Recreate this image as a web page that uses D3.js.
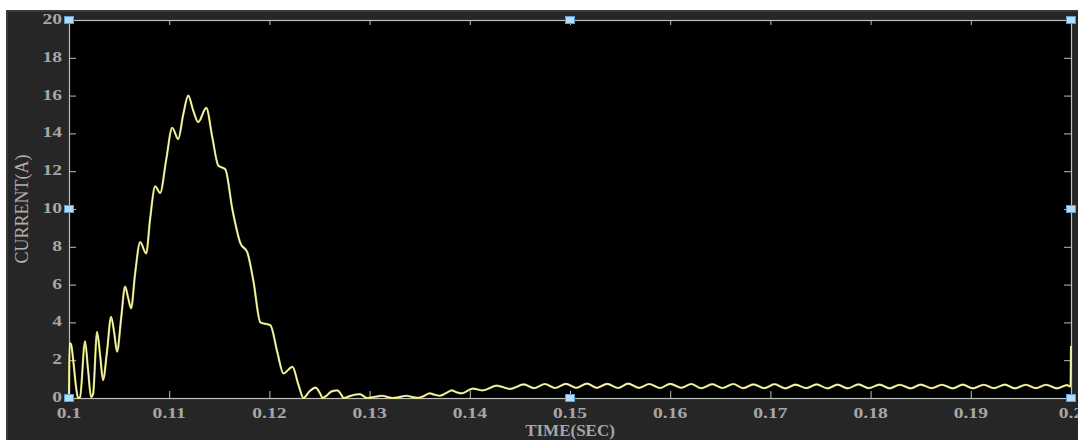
<!DOCTYPE html>
<html>
<head>
<meta charset="utf-8">
<script src="https://cdn.jsdelivr.net/npm/d3@7"></script>
<style>
  html, body { margin: 0; padding: 0; background: #ffffff; }
  svg { display: block; }
</style>
</head>
<body>
<svg id="chart" width="1078" height="440"></svg>
<script>
// ---- data ----
const timeSec = [
  0.1000, 0.10005, 0.1002, 0.1004, 0.1007, 0.1009, 0.1011, 0.1016, 0.1019, 0.1022,
  0.1024, 0.1028, 0.1031, 0.1034, 0.1038, 0.1042, 0.1045, 0.1048, 0.1052, 0.1056,
  0.1059, 0.1062, 0.1066, 0.1071, 0.1077, 0.1081, 0.1086, 0.1091, 0.1097, 0.1103,
  0.1109, 0.1114, 0.1119, 0.1124, 0.1129, 0.1137, 0.1143, 0.1149, 0.1156, 0.1163,
  0.1171, 0.1178, 0.1184, 0.1191, 0.1201, 0.1208, 0.1214, 0.1223, 0.1229, 0.1234,
  0.1240, 0.1246, 0.1251, 0.1253, 0.1257, 0.1262, 0.1268, 0.1272, 0.1274, 0.1280,
  0.1285, 0.1290, 0.1294, 0.1297, 0.1303, 0.1308, 0.1313, 0.1318, 0.1323, 0.1328,
  0.1337, 0.1343, 0.1348, 0.1354, 0.1360, 0.1365, 0.1370, 0.1376, 0.1382, 0.1387,
  0.1392, 0.1403, 0.1413, 0.1427, 0.1440, 0.1454, 0.1464, 0.1475, 0.1485, 0.1496,
  0.1506, 0.1517, 0.1527, 0.1537, 0.1548, 0.1558, 0.1569, 0.1579, 0.1590, 0.1600,
  0.1611, 0.1621, 0.1631, 0.1642, 0.1652, 0.1663, 0.1673, 0.1683, 0.1694, 0.1704,
  0.1715, 0.1725, 0.1736, 0.1746, 0.1757, 0.1767, 0.1777, 0.1788, 0.1798, 0.1809,
  0.1819, 0.1829, 0.1840, 0.1850, 0.1861, 0.1871, 0.1882, 0.1892, 0.1902, 0.1913,
  0.1923, 0.1934, 0.1944, 0.1955, 0.1965, 0.1975, 0.1986, 0.1996, 0.19995, 0.2000
];
const currentA = [
  0, 2.9, 2.85, 2.1, 0.6, 0, 0.05, 3.0, 1.5, 0.05,
  0.2, 3.5, 2.3, 0.95, 2.5, 4.3, 3.5, 2.45, 4.2, 5.9,
  5.3, 4.75, 6.6, 8.25, 7.65, 9.5, 11.2, 10.85, 12.6, 14.3,
  13.7, 15.0, 16.0, 15.2, 14.6, 15.35, 13.8, 12.3, 12.1, 10.0,
  8.2, 7.7, 6.2, 4.0, 3.85, 2.4, 1.3, 1.65, 0.7, 0,
  0.35, 0.55, 0.2, 0, 0.12, 0.35, 0.4, 0.15, 0, 0.1,
  0.17, 0.2, 0.1, 0, 0.04, 0.09, 0.12, 0.05, 0, 0.03,
  0.12, 0.05, 0.01, 0.1, 0.25, 0.17, 0.12, 0.25, 0.4, 0.3,
  0.25, 0.5, 0.4, 0.65, 0.48, 0.72, 0.52, 0.74, 0.53, 0.75,
  0.54, 0.76, 0.54, 0.75, 0.53, 0.76, 0.54, 0.74, 0.53, 0.75,
  0.54, 0.74, 0.52, 0.73, 0.53, 0.74, 0.52, 0.72, 0.52, 0.73,
  0.51, 0.71, 0.52, 0.72, 0.51, 0.71, 0.51, 0.72, 0.52, 0.71,
  0.51, 0.70, 0.51, 0.71, 0.52, 0.70, 0.51, 0.71, 0.51, 0.70,
  0.52, 0.71, 0.51, 0.70, 0.52, 0.70, 0.51, 0.68, 0.6, 2.75
];
const xTicks = [0.1, 0.11, 0.12, 0.13, 0.14, 0.15, 0.16, 0.17, 0.18, 0.19, 0.2];
const xTickLabels = ["0.1", "0.11", "0.12", "0.13", "0.14", "0.15", "0.16", "0.17", "0.18", "0.19", "0.2"];
const yTicks = [0, 2, 4, 6, 8, 10, 12, 14, 16, 18, 20];
const yTickLabels = ["0", "2", "4", "6", "8", "10", "12", "14", "16", "18", "20"];
const markerX = [0.1, 0.15, 0.2];
const markerY = [0, 10, 20];
const xTitle = "TIME(SEC)";
const yTitle = "CURRENT(A)";

// ---- layout ----
const W = 1078, H = 440;
const plot = { left: 69, right: 1071, top: 20, bottom: 398 };
const svg = d3.select("#chart");

svg.append("rect").attr("x", 6).attr("y", 10).attr("width", W - 6).attr("height", H - 10).attr("fill", "#262626");
svg.append("rect").attr("x", 6).attr("y", 10).attr("width", W - 6).attr("height", 2).attr("fill", "#3a3a3a");
svg.append("rect").attr("x", 6).attr("y", 10).attr("width", 2).attr("height", H - 10).attr("fill", "#3a3a3a");

const x = d3.scaleLinear().domain([0.1, 0.2]).range([plot.left, plot.right]);
const y = d3.scaleLinear().domain([0, 20]).range([plot.bottom, plot.top]);

svg.append("rect")
  .attr("x", plot.left).attr("y", plot.top)
  .attr("width", plot.right - plot.left).attr("height", plot.bottom - plot.top)
  .attr("fill", "#000000");

const axisColor = "#bdbdbd";
const tickLen = 7;

function styleAxis(g) {
  g.select(".domain").remove();
  g.selectAll(".tick line").attr("stroke", axisColor).attr("stroke-width", 1);
  g.selectAll(".tick text").remove();
}

// inward ticks on all four sides
svg.append("g").attr("transform", `translate(0,${plot.bottom})`)
  .call(d3.axisTop(x).tickValues(xTicks).tickSize(tickLen)).call(styleAxis);
svg.append("g").attr("transform", `translate(0,${plot.top})`)
  .call(d3.axisBottom(x).tickValues(xTicks).tickSize(5)).call(styleAxis);
svg.append("g").attr("transform", `translate(${plot.left},0)`)
  .call(d3.axisRight(y).tickValues(yTicks).tickSize(tickLen)).call(styleAxis);
svg.append("g").attr("transform", `translate(${plot.right},0)`)
  .call(d3.axisLeft(y).tickValues(yTicks).tickSize(tickLen)).call(styleAxis);

// frame
svg.append("rect")
  .attr("x", plot.left + 0.5).attr("y", plot.top + 0.5)
  .attr("width", plot.right - plot.left).attr("height", plot.bottom - plot.top)
  .attr("fill", "none").attr("stroke", axisColor).attr("stroke-width", 1.2);

// trace
const pts = timeSec.map((t, i) => [t, currentA[i]]);
const line = d3.line().x(d => x(d[0])).y(d => y(d[1])).curve(d3.curveMonotoneX);
svg.append("path").datum(pts)
  .attr("d", line)
  .attr("fill", "none")
  .attr("stroke", "#e8e85a")
  .attr("stroke-width", 2.2)
  .attr("stroke-linejoin", "round")
  .attr("opacity", 0.85);
svg.append("path").datum(pts)
  .attr("d", line)
  .attr("fill", "none")
  .attr("stroke", "#fbfbd0")
  .attr("stroke-width", 1.1)
  .attr("stroke-linejoin", "round");

// tick labels (horizontally widened serif bold, as in the reference)
const labelFont = "'Liberation Serif', 'Times New Roman', serif";
const labelColor = "#a6a6a6";
const sx = 1.35;
xTicks.forEach((v, i) => {
  svg.append("g").attr("transform", `translate(${x(v)},418) scale(${sx},1)`)
    .append("text")
    .attr("text-anchor", "middle")
    .attr("font-family", labelFont).attr("font-weight", "bold")
    .attr("font-size", 14.5).attr("fill", labelColor)
    .text(xTickLabels[i]);
});
yTicks.forEach((v, i) => {
  svg.append("g").attr("transform", `translate(62,${y(v) + 4}) scale(${sx},1)`)
    .append("text")
    .attr("text-anchor", "end")
    .attr("font-family", labelFont).attr("font-weight", "bold")
    .attr("font-size", 14.5).attr("fill", labelColor)
    .text(yTickLabels[i]);
});

// axis titles
svg.append("text")
  .attr("x", 570).attr("y", 436)
  .attr("text-anchor", "middle")
  .attr("font-family", labelFont).attr("font-weight", "bold")
  .attr("font-size", 17).attr("fill", "#a6a6a6")
  .text(xTitle);
svg.append("text")
  .attr("transform", `translate(28,${(plot.top + plot.bottom) / 2}) rotate(-90)`)
  .attr("text-anchor", "middle")
  .attr("font-family", labelFont)
  .attr("font-size", 18).attr("fill", "#b0b0b0")
  .text(yTitle);

// light-blue selection markers at corners and mid-sides
const markers = [];
markerX.forEach(mx => markerY.forEach(my => {
  if (mx === 0.15 && my === 10) return;
  markers.push([mx, my]);
}));
svg.selectAll("rect.marker").data(markers).enter().append("rect")
  .attr("class", "marker")
  .attr("x", d => x(d[0]) - 4.5).attr("y", d => y(d[1]) - 3.5)
  .attr("width", 9).attr("height", 7)
  .attr("fill", "#b3dcf7").attr("stroke", "#5aa0d8").attr("stroke-width", 1);
</script>
</body>
</html>
